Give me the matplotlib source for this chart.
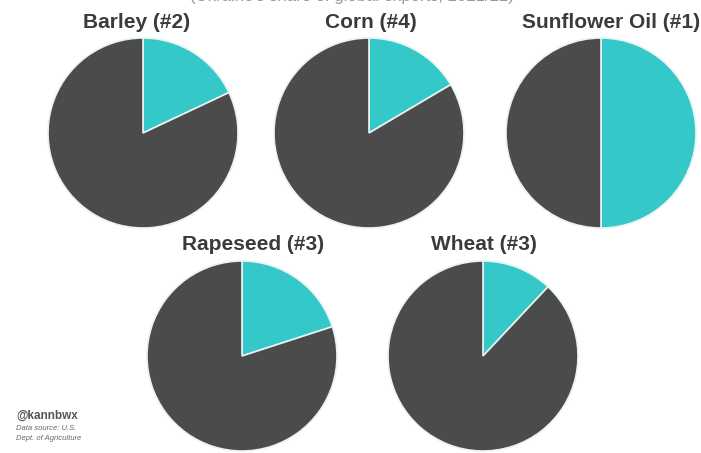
import matplotlib
matplotlib.use("Agg")
import matplotlib.pyplot as plt

# Ukraine's share of global exports (%)
crops = ["Barley (#2)", "Corn (#4)", "Sunflower Oil (#1)", "Rapeseed (#3)", "Wheat (#3)"]
shares = [18, 16.5, 50, 20, 12]

# pie centres in pixels (x from left, y from top) and title x positions
centres = [(143, 133), (369, 133), (601, 133), (242, 356), (483, 356)]
title_x = [137, 371, 611, 253, 484]
radius_px = 95

W, H = 701, 453
cyan = "#35c8c8"
dark = "#4b4b4b"
text_col = "#3b3b3b"

plt.rcParams["font.family"] = ["Liberation Sans", "DejaVu Sans"]

fig = plt.figure(figsize=(W / 100, H / 100), dpi=100)
fig.patch.set_facecolor("white")

# subtitle, mostly cut off at the top edge as in the source image
fig.text(352 / W, 1 - 1.5 / H, "(Ukraine's share of global exports, 2021/22)",
         ha="center", va="baseline", fontsize=12, color="#9a9a9a")

for name, share, (cx, cy), tx in zip(crops, shares, centres, title_x):
    ax = fig.add_axes([(cx - radius_px) / W, 1 - (cy + radius_px) / H,
                       2 * radius_px / W, 2 * radius_px / H])
    ax.pie([share, 100 - share], colors=[cyan, dark], startangle=90,
           counterclock=False, radius=1,
           wedgeprops={"edgecolor": "#e8f4f4", "linewidth": 1.2})
    ax.set_xlim(-1.0, 1.0)
    ax.set_ylim(-1.0, 1.0)
    ax.set_aspect("equal")
    ax.axis("off")
    fig.text(tx / W, 1 - (cy - radius_px - 16) / H, name, ha="center", va="center",
             fontsize=15, fontweight="bold", color=text_col)

fig.text(16 / W, 1 - 416 / H, "@kannbwx", ha="left", va="center",
         fontsize=8.5, fontweight="bold", color="#555555")
fig.text(16 / W, 1 - 428 / H, "Data source: U.S.", ha="left", va="center",
         fontsize=5.5, style="italic", color="#666666")
fig.text(16 / W, 1 - 438 / H, "Dept. of Agriculture", ha="left", va="center",
         fontsize=5.5, style="italic", color="#666666")

fig.savefig("out.png", dpi=100)
